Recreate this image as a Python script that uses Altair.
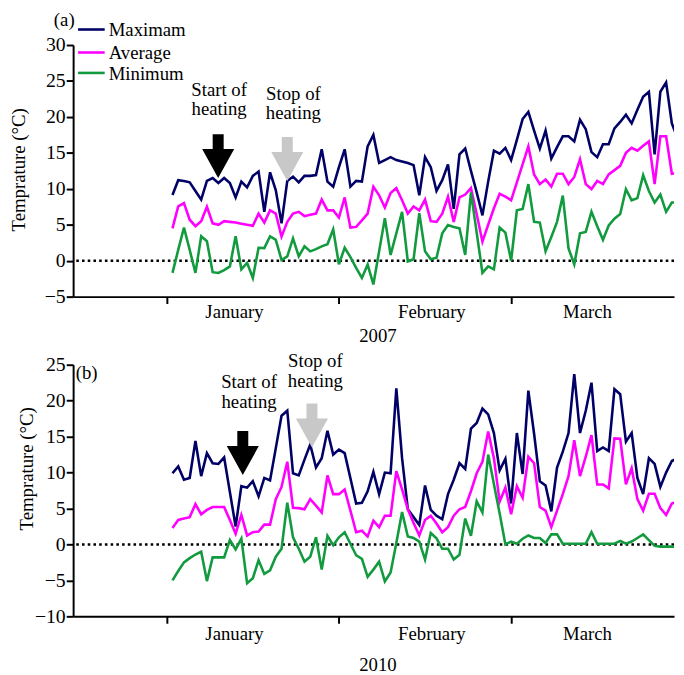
import altair as alt
import pandas as pd

FONT = "Liberation Serif"
FS = 19
LABEL_FS = 20

SERIES = ["Maximam", "Average", "Minimum"]
COLORS = ["#000066", "#ff00ff", "#129a3e"]

MAX_2007 = [9.15, 11.2, 11.1, 10.9, 9.7, 8.5, 11.1, 11.5, 10.8, 11.5,
            10.8, 8.8, 11.0, 10.2, 11.8, 12.4, 6.8, 12.3, 9.8, 5.2,
            11.1, 11.7, 10.9, 11.8, 11.8, 11.9, 15.5, 11.0, 10.3, 13.0,
            15.5, 10.3, 11.1, 11.0, 15.9, 17.5, 13.6, 14.0, 14.4, 14.0,
            13.8, 13.6, 13.3, 9.1, 14.4, 13.0, 9.7, 11.2, 13.4, 7.2,
            14.8, 15.6, 12.5, 9.5, 6.3, 11.0, 15.3, 14.9, 15.7, 14.0,
            16.8, 19.7, 20.7, 18.1, 15.6, 18.1, 14.2, 15.8, 17.3, 17.3,
            16.6, 19.6, 18.3, 15.1, 14.4, 16.2, 16.2, 18.4, 19.3, 20.3,
            19.1, 21.0, 22.8, 23.5, 14.8, 23.5, 24.8, 19.1, 17.0]
AVG_2007 = [4.5, 7.55, 8.0, 5.7, 4.8, 5.5, 7.5, 5.2, 5.0, 5.5,
            5.4, 5.3, 5.15, 5.0, 4.85, 6.55, 5.3, 7.0, 6.55, 3.35,
            5.4, 6.55, 6.8, 6.2, 6.4, 6.55, 8.5, 7.0, 7.0, 6.0,
            8.8, 4.6, 4.7, 5.6, 6.55, 10.3, 9.1, 7.4, 9.4, 10.1,
            8.4, 6.55, 7.55, 7.0, 8.5, 5.5, 5.4, 6.55, 8.9, 5.4,
            8.8, 9.2, 10.1, 6.5, 2.65, 5.0, 7.3, 9.3, 8.9, 8.4,
            10.9, 13.4, 15.9, 12.0, 10.65, 11.3, 10.3, 12.1, 12.1, 10.65,
            11.65, 14.1, 10.65, 9.96, 11.1, 10.65, 12.0, 12.6, 13.2, 15.0,
            15.7, 15.3, 16.0, 16.6, 10.65, 17.3, 17.3, 12.1, 12.2]
MIN_2007 = [-1.7, 1.5, 4.6, 1.5, -1.7, 3.4, 2.7, -1.6, -1.7, -1.3,
            -0.8, 3.4, -1.2, -0.3, -2.4, 1.8, 1.75, 3.4, 2.9, 0.1,
            0.6, 3.1, 0.6, 2.0, 1.3, 1.6, 2.0, 2.3, 4.35, -0.5,
            1.8, 0.5, -1.0, -2.4, -0.55, -3.3, 1.3, 5.9, 0.8, 3.8,
            6.8, -0.1, 0.2, 6.6, 1.3, 0.2, 0.4, 3.8, 4.95, 4.7,
            4.5, 0.8, 9.5, 3.9, -1.7, -0.8, -1.2, 4.6, 3.9, 0.0,
            7.0, 7.2, 10.65, 5.4, 5.3, 1.3, 3.3, 5.4, 9.05, 1.7,
            -0.5, 3.8, 4.0, 6.8, 4.8, 2.9, 4.9, 5.85, 6.5, 9.96,
            8.4, 8.7, 11.9, 9.7, 8.1, 9.2, 6.8, 8.1, 8.1]

MAX_2010 = [9.9, 10.85, 9.0, 9.25, 14.4, 9.5, 12.7, 11.3, 11.2, 12.1,
            7.3, 2.5, 8.1, 7.9, 8.8, 6.7, 9.25, 8.9, 13.4, 17.9,
            18.6, 9.9, 9.6, 11.8, 13.9, 10.7, 12.0, 15.8, 12.5, 13.2,
            12.7, 9.2, 5.7, 5.8, 7.4, 10.1, 7.0, 10.0, 9.9, 21.7,
            12.0, 4.9, 3.8, 2.7, 8.2, 4.8, 4.0, 3.5, 7.0, 9.0,
            11.3, 10.5, 16.1, 16.9, 18.9, 18.1, 15.5, 10.3, 11.9, 5.7,
            15.5, 9.8, 21.4, 15.4, 8.8, 8.2, 4.6, 10.7, 12.9, 15.5,
            23.7, 15.5, 18.6, 22.5, 13.0, 13.5, 13.0, 21.6, 20.9, 14.3,
            15.5, 9.25, 7.0, 12.0, 11.2, 8.0, 10.0, 11.6, 12.0]
AVG_2010 = [2.3, 3.4, 3.6, 3.8, 5.6, 4.2, 4.8, 5.2, 5.2, 5.2,
            3.4, 1.5, 4.1, 1.25, 1.7, 1.8, 2.76, 2.76, 6.3, 8.0,
            11.5, 5.1, 5.05, 4.9, 6.3, 5.4, 4.45, 9.6, 7.0, 7.0,
            7.65, 4.7, 1.7, 1.9, 1.1, 3.3, 2.4, 4.0, 4.0, 10.2,
            7.65, 4.9, 3.0, 1.25, 3.4, 4.0, 2.9, 1.7, 2.4, 4.0,
            4.9, 5.2, 7.4, 9.9, 11.5, 15.7, 12.0, 5.96, 7.9, 4.2,
            8.1, 6.5, 12.2, 11.3, 5.2, 4.7, 2.4, 4.7, 7.0, 9.5,
            14.5, 9.5, 12.2, 15.2, 8.35, 8.35, 7.8, 14.75, 14.7, 8.35,
            10.6, 6.3, 4.7, 7.05, 7.05, 5.05, 4.1, 5.7, 6.0]
MIN_2010 = [-5.0, -3.7, -2.5, -1.9, -1.4, -1.0, -5.1, -1.8, -1.8, -1.8,
            0.6, -0.7, 0.8, -5.4, -4.7, -2.2, -4.1, -3.6, -1.7, -0.6,
            5.8, 1.0, -0.6, -2.4, -1.7, 1.0, -3.5, 1.2, -0.1, 1.0,
            1.7, 0.1, -1.5, -2.0, -4.5, -3.5, -2.4, -5.15, -3.9, 0.2,
            4.5, 1.1, 0.9, 0.4, -2.1, 1.6, 0.85, -0.6, -0.6, -2.1,
            -1.45, 3.6, 1.2, 6.0, 4.45, 12.5, 8.4, 4.3, 0.0, 0.4,
            0.1, 0.8, 1.25, 0.9, 0.9, 0.2, 1.4, 1.4, 0.1, 0.1,
            0.1, 0.1, 0.1, 1.7, 0.1, 0.1, 0.1, 0.1, 0.5, 0.1,
            0.4, 0.9, 1.4, 0.6, -0.2, -0.3, -0.3, -0.3, -0.3]

MONTHS = ["January", "February", "March"]
MONTH_DAYS = [11.8, 46.2, 73.3]
TICK_DAYS = [0, 30, 60]
YEAR_DAY = 36.8

ANNOT_LINES = ["Start of", "heating", "Stop of", "heating"]

X_DOMAIN = [-16.31, 88.38]
W, H = 609, 255

ARROW = "M-0.25,-1L0.25,-1L0.25,-0.32L0.73,-0.32L0,1L-0.73,-0.32L-0.25,-0.32Z"

xscale = alt.Scale(domain=X_DOMAIN, nice=False, zero=False)
color_scale = alt.Scale(domain=SERIES, range=COLORS)
xaxis = alt.Axis(values=TICK_DAYS, labels=False, title=None, tickSize=7, tickWidth=2,
                 tickColor="black", domainColor="black", domainWidth=2, grid=False)


def long_df(maxv, avgv, minv):
    rows = []
    for name, vals in zip(SERIES, [maxv, avgv, minv]):
        for i, v in enumerate(vals):
            rows.append({"day": i + 1, "value": v, "series": name})
    return pd.DataFrame(rows)


def panel(df, ydom, yticks, title_x, title_y, month_val, year, year_val,
          annot, start_arrow, stop_arrow, tag, legend=None):
    yscale = alt.Scale(domain=ydom, nice=False, zero=False)
    yaxis = alt.Axis(values=yticks, title="Temprature (°C)", titleFont=FONT, titleFontSize=FS,
                     titleFontWeight="normal", titleColor="black", titleAngle=270,
                     titleX=title_x, titleY=title_y, titleBaseline="middle", titleAlign="center",
                     labelFont=FONT, labelFontSize=LABEL_FS, labelColor="black", labelPadding=1,
                     tickSize=7, tickWidth=2, tickColor="black", domainColor="black",
                     domainWidth=2, grid=False)

    def X(f):
        return alt.X(f, type="quantitative", scale=xscale, axis=xaxis)

    def Y(f):
        return alt.Y(f, type="quantitative", scale=yscale, axis=yaxis)

    txt = dict(font=FONT, fontSize=FS, color="black")

    zero = alt.Chart(pd.DataFrame({"value": [0]})).mark_rule(
        color="black", strokeWidth=2.6, strokeDash=[2.6, 3.2]).encode(y=Y("value"))

    lines = alt.Chart(df).mark_line(strokeWidth=2.6, clip=True).encode(
        x=X("day"), y=Y("value"),
        color=alt.Color("series:N", scale=color_scale, legend=None))

    months = alt.Chart(pd.DataFrame({"day": MONTH_DAYS, "value": [month_val] * 3,
                                     "label": MONTHS})).mark_text(
        baseline="alphabetic", align="center", **txt).encode(x=X("day"), y=Y("value"), text="label:N")

    yr = alt.Chart(pd.DataFrame({"day": [YEAR_DAY], "value": [year_val], "label": [year]})).mark_text(
        baseline="alphabetic", align="center", **txt).encode(x=X("day"), y=Y("value"), text="label:N")

    ann = alt.Chart(annot).mark_text(baseline="alphabetic", align="center", **txt).encode(
        x=X("day"), y=Y("value"), text="label:N")

    a1 = alt.Chart(start_arrow).mark_point(shape=ARROW, filled=True, size=1980, opacity=1,
                                           color="black", strokeWidth=0).encode(x=X("day"), y=Y("value"))
    a2 = alt.Chart(stop_arrow).mark_point(shape=ARROW, filled=True, size=1980, opacity=1,
                                          color="#c8c8c8", strokeWidth=0).encode(x=X("day"), y=Y("value"))

    tg = alt.Chart(tag).mark_text(baseline="alphabetic", align="center", **txt).encode(
        x=X("day"), y=Y("value"), text="label:N")

    layers = [zero, lines, months, yr, ann, a1, a2, tg]
    if legend is not None:
        lr = alt.Chart(legend).mark_rule(strokeWidth=2.6).encode(
            x=X("x1"), x2="x2:Q", y=Y("value"),
            color=alt.Color("series:N", scale=color_scale, legend=None))
        lt = alt.Chart(legend).mark_text(align="left", baseline="middle", dy=1, **txt).encode(
            x=X("tx"), y=Y("value"), text="series:N")
        layers += [lr, lt]
    return alt.layer(*layers).properties(width=W, height=H)


df07 = long_df(MAX_2007, AVG_2007, MIN_2007)
df10 = long_df(MAX_2010, AVG_2010, MIN_2010)

annot07 = pd.DataFrame({"day": [9.13, 9.13, 22.07, 22.07],
                        "value": [22.9, 20.2, 22.4, 19.7], "label": ANNOT_LINES})
annot10 = pd.DataFrame({"day": [14.34, 14.34, 25.9, 25.9],
                        "value": [21.7, 18.98, 24.62, 21.96], "label": ANNOT_LINES})

legend07 = pd.DataFrame({"series": SERIES, "x1": [-15.45] * 3, "x2": [-10.81] * 3,
                         "tx": [-10.12] * 3, "value": [32.16, 28.96, 26.12]})

pa = panel(df07, [-5, 30], list(range(-5, 31, 5)), -55, 126, -8.0, "2007", -11.3,
           annot07,
           pd.DataFrame({"day": [8.96], "value": [14.55]}),
           pd.DataFrame({"day": [21.0], "value": [14.14]}),
           pd.DataFrame({"day": [-17.86], "value": [32.67], "label": ["(a)"]}),
           legend07)

pb = panel(df10, [-10, 25], list(range(-10, 26, 5)), -47.5, 105, -13.3, "2010", -17.55,
           annot10,
           pd.DataFrame({"day": [13.25], "value": [12.71]}),
           pd.DataFrame({"day": [25.3], "value": [16.55]}),
           pd.DataFrame({"day": [-13.96], "value": [23.07], "label": ["(b)"]}))

chart = alt.vconcat(pa, pb, spacing=6).resolve_scale(y="independent").properties(
    padding={"left": 2, "top": -2, "right": 0, "bottom": 0}
).configure_view(stroke=None)

chart.save("out.html", embed_options={"renderer": "svg", "actions": False})
